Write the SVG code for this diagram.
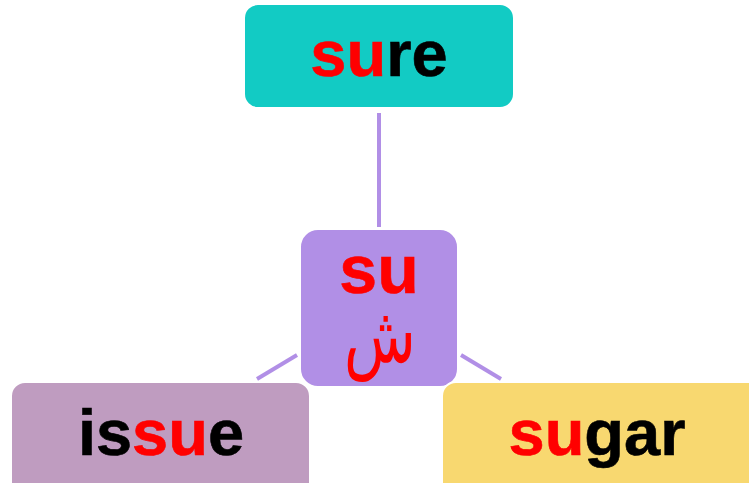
<svg xmlns="http://www.w3.org/2000/svg" width="749" height="483" viewBox="0 0 749 483">
<style>
.box{stroke:#ffffff;stroke-width:2}
.t{font-family:"Liberation Sans",Arial,sans-serif;font-weight:bold;font-size:65px;text-anchor:middle;fill:#000000;stroke-width:0.6}
.r{fill:#ff0000}
.conn line{stroke:#b18fe6;stroke-width:4}
</style>
<rect width="749" height="483" fill="#ffffff"/>
<g id="connectors" class="conn">
<line x1="379" y1="113" x2="379" y2="227"/>
<line x1="297" y1="355" x2="257" y2="379"/>
<line x1="461" y1="355" x2="501" y2="379"/>
</g>
<g id="node-sure">
<rect class="box" x="244" y="4" width="270" height="104" rx="14" fill="#12cbc4"/>
<text class="t" x="379" y="76" style="stroke:#000"><tspan class="r" style="stroke:#ff0000">su</tspan>re</text>
</g>
<g id="node-center">
<rect class="box" x="300" y="229" width="158" height="158" rx="18" fill="#b18fe6"/>
<text class="t r" x="379" y="293" style="font-size:68px;stroke:#ff0000">su</text>
<text transform="translate(380 362) scale(0.92 1.25)" style="font-family:'DejaVu Sans','Noto Sans',sans-serif;font-size:64px;text-anchor:middle;fill:#ff0000">ش</text>
</g>
<g id="node-issue">
<rect class="box" x="11" y="382" width="299" height="115" rx="14" fill="#bf9cc0"/>
<text class="t" x="161" y="455" style="stroke:#000">is<tspan class="r" style="stroke:#ff0000">su</tspan>e</text>
</g>
<g id="node-sugar">
<rect class="box" x="442" y="382" width="320" height="115" rx="14" fill="#f8d870"/>
<text class="t" x="597" y="455" style="stroke:#000"><tspan class="r" style="stroke:#ff0000">su</tspan>gar</text>
</g>
</svg>
